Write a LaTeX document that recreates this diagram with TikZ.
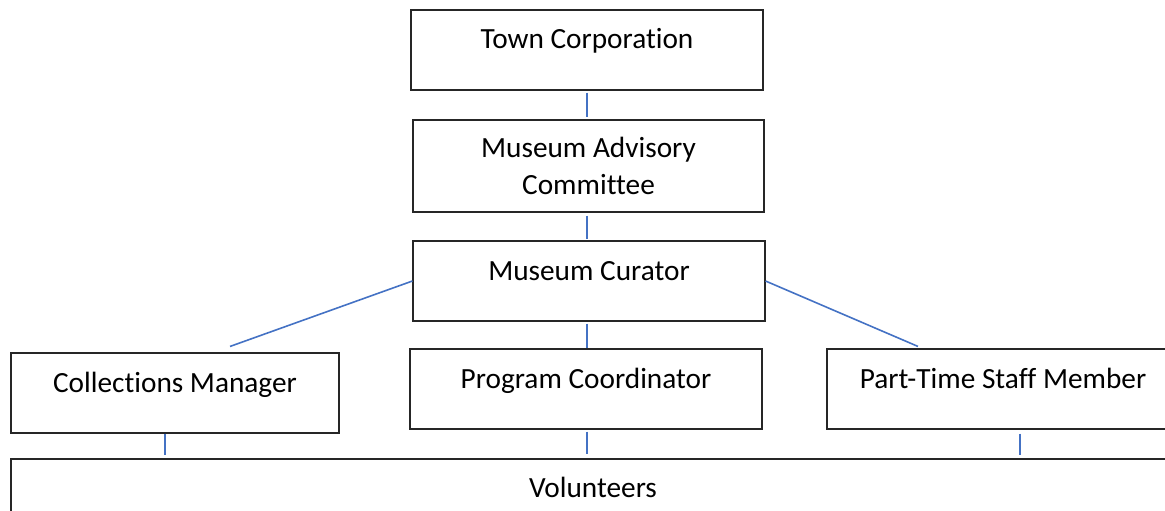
\documentclass[tikz,border=0pt]{standalone}
\usepackage{fontspec}
\setmainfont{Carlito}[Ligatures=NoCommon]
\definecolor{linkblue}{HTML}{4472C4}
\begin{document}
\begin{tikzpicture}[x=1pt,y=-1pt,
  unit/.style={draw=black!85, line width=1.1pt, inner sep=0pt, minimum width=352pt,
    text height=39pt, text depth=41pt, font=\fontsize{29.3pt}{37pt}\selectfont},
  link/.style={draw=linkblue, line width=1.6pt}]
\useasboundingbox (0,0) rectangle (1165,511);
\node[unit] (town) at (587,50) {Town Corporation};
\node[unit, minimum width=351pt, minimum height=92pt, text height=, text depth=, align=center]
  (adv) at (588.5,166) {Museum Advisory\\Committee};
\node[unit] (cur) at (589,281) {Museum Curator};
\node[unit, minimum width=328pt] (coll) at (175,393) {Collections Manager};
\node[unit] (prog) at (586,389) {Program Coordinator};
\node[unit] (part) at (1003,389) {Part-Time Staff Member};
\node[unit, minimum width=1164pt, text height=38pt, text depth=42pt] (vol) at (593,499) {Volunteers};
\draw[link, shorten <=2pt, shorten >=2pt] (town.south) -- (adv.north -| town);
\draw[link, shorten <=3pt, shorten >=1pt] (adv.south -| town) -- (cur.north -| town);
\draw[link, shorten <=2pt] (cur.south -| town) -- (prog.north -| town);
\draw[link] (cur.west) -- ([xshift=55pt,yshift=6pt]coll.north);
\draw[link] (cur.east) -- ([xshift=-85pt,yshift=2pt]part.north);
\draw[link] ([xshift=-10pt]coll.south) -- ([xshift=-10pt,yshift=3pt]coll.south |- vol.north);
\draw[link, shorten <=2pt, shorten >=4pt] (prog.south -| town) -- (vol.north -| town);
\draw[link, shorten <=4pt] ([xshift=17pt]part.south) -- ([xshift=17pt,yshift=3pt]part.south |- vol.north);
\end{tikzpicture}
\end{document}
